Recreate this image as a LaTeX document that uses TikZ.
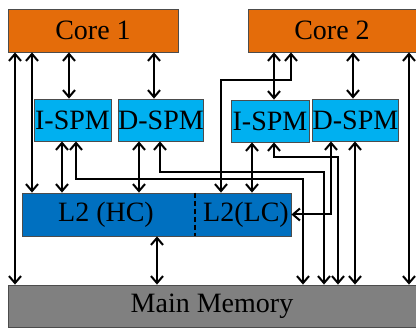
\documentclass[tikz,border=0pt]{standalone}
\usepackage{fontspec}
\setmainfont{Liberation Serif}
\usepackage{xcolor}
\usetikzlibrary{arrows.meta}
\definecolor{coreorange}{RGB}{228,108,10}
\definecolor{spmblue}{RGB}{0,176,240}
\definecolor{ltwoblue}{RGB}{0,112,192}
\definecolor{memgray}{RGB}{128,128,128}
\tikzset{every node/.style={font=\fontsize{28}{30}\selectfont,inner sep=0pt},
 box/.style={draw=black!70,line width=0.8pt,rectangle},
 core/.style={box,fill=coreorange,minimum height=43pt},
 spm/.style={box,fill=spmblue,minimum height=42pt},
 ltwo/.style={box,fill=ltwoblue,minimum height=43pt},
 mainmem/.style={box,fill=memgray,minimum height=42pt},
 link/.style={line width=2pt,
  {Straight Barb[length=7pt,width=12pt]}-{Straight Barb[length=7pt,width=12pt]}},
 }

\begin{document}
\begin{tikzpicture}[x=1pt,y=-1pt]
        \useasboundingbox (0,0) rectangle (416,329);
        \node[core,minimum width=170pt] (core1) at (93,30.5) {Core 1};
        \node[core,minimum width=168pt] (core2) at (332,30.5) {Core 2};
        \node[spm,minimum width=77pt] (ispm1) at (72.5,120) {I-SPM};
        \node[spm,minimum width=84pt] (dspm1) at (161,120) {D-SPM};
        \node[spm,minimum width=78pt] (ispm2) at (270,121) {I-SPM};
        \node[spm,minimum width=85pt] (dspm2) at (355.5,120) {D-SPM};
        \node[ltwo,minimum width=269pt] (l2) at (156.5,214.5) {};
        \node (l2hc) at (106,214.5) {L2 (HC)};
        \node (l2lc) at (246,214.5) {L2(LC)};
        \draw[dash pattern=on 5pt off 3pt,line width=2pt] (l2.north -| 195,0) -- (l2.south -| 195,0);
        \node[mainmem,minimum width=408pt] (mem) at (212,306) {Main Memory};
        \draw[link] (core1.south -| 15,0) -- (mem.north -| 15,0);
        \draw[link] (core1.south -| 32,0) -- (l2.north -| 32,0);
        \draw[link] (core1.south -| 69,0) -- (ispm1.north -| 69,0);
        \draw[link] (core1.south -| 154,0) -- (dspm1.north -| 154,0);
        \draw[link] (ispm1.south -| 62,0) -- (l2.north -| 62,0);
        \draw[link] (ispm1.south -| 76,0) |- (303,179) -- (mem.north -| 303,0);
        \draw[link] (dspm1.south -| 139,0) -- (l2.north -| 139,0);
        \draw[link] (dspm1.south -| 160,0) |- (324,172) -- (mem.north -| 324,0);
        \draw[link] (l2.south -| 157,0) -- (mem.north -| 157,0);
        \draw[link] (core2.south -| 274,0) -- (ispm2.north -| 274,0);
        \draw[link] (core2.south -| 291,0) |- (221,80) -- (l2.north -| 221,0);
        \draw[link] (core2.south -| 353,0) -- (dspm2.north -| 353,0);
        \draw[link] (core2.south -| 409,0) -- (mem.north -| 409,0);
        \draw[link] (ispm2.south -| 252,0) -- (l2.north -| 252,0);
        \draw[link] (ispm2.south -| 274,0) |- (338,157) -- (mem.north -| 338,0);
        \draw[link] (dspm2.south -| 331,0) |- (l2.east);
        \draw[link] (dspm2.south -| 355,0) -- (mem.north -| 355,0);
    \end{tikzpicture}
\end{document}
